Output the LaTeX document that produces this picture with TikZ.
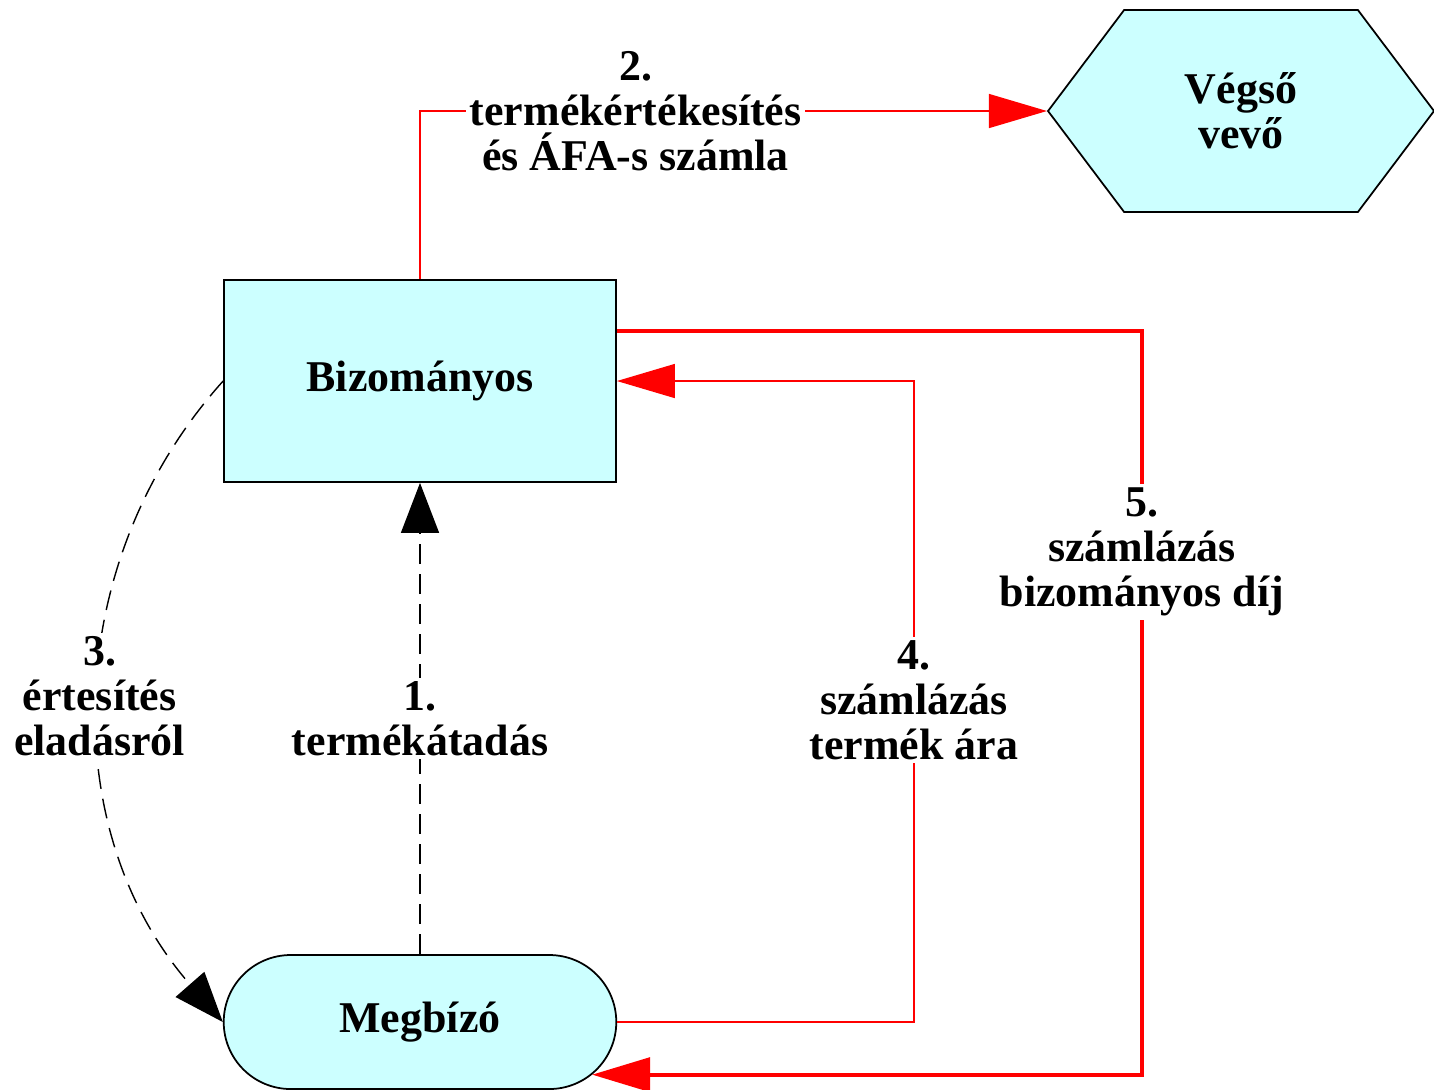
\documentclass[tikz,border=0pt]{standalone}
\usepackage{fontspec}
\setmainfont{Liberation Serif}
\usetikzlibrary{shapes.misc,shapes.symbols,arrows.meta,positioning}
\definecolor{boxcyan}{RGB}{204,255,255}

\begin{document}
\begin{tikzpicture}[x=0.1mm,y=-0.1mm,
  font=\fontsize{12.5}{12.8}\selectfont\bfseries,
  box/.style={draw=black,fill=boxcyan,line width=0.5pt,align=center},
  lbl/.style={fill=white,align=center,inner sep=1pt},
  blackarrow/.style={draw=black,line width=0.4pt,dash pattern=on 2mm off 1mm,-{Triangle[length=5mm,width=3.8mm]}},
  redarrow/.style={draw=red,line width=0.4pt,-{Triangle[length=5.8mm,width=3.4mm]}},
  thickred/.style={draw=red,line width=1.1pt,-{Triangle[length=5.8mm,width=3.4mm]}}]

\useasboundingbox (0,0) rectangle (1434,1089);

% the three parties
\node[box,minimum width=3.92cm,minimum height=2.02cm] (biz) at (420,381) {Bizományos};
\node[box,rounded rectangle,minimum width=4.16cm,minimum height=1.34cm] (meg) at (420,1022) {Megbízó};
\node[box,signal,signal to=west and east,signal pointer angle=106,minimum width=3.86cm,minimum height=2.02cm] (vevo) at (1241,111) {Végső\\vevő};

% 1. product handed over
\draw[blackarrow] (meg.north) -- (biz.south) node[lbl,pos=0.5] (lab1) {1.\\termékátadás};

% 2. selling to the buyer
\draw[redarrow] (biz.north) |- (vevo.west) node[lbl,pos=0.672] (lab2) {2.\\termékértékesítés\\és ÁFA-s számla};

% 3. notice
\draw[blackarrow] (biz.west) .. controls (62,560) and (55,830) .. (meg.west) node[lbl,pos=0.5] (lab3) {3.\\értesítés\\eladásról};

% 4. invoice, price of product
\draw[redarrow] (meg.east) -| (914,700) node[lbl] (lab4) {4.\\számlázás\\termék ára} |- (biz.east);

% 5. invoice, commission
\draw[thickred] ([yshift=5mm]biz.east) -| (1142,552) node[lbl] (lab5) {5.\\számlázás\\bizományos díj} |- (meg.-17.7);
\end{tikzpicture}
\end{document}
